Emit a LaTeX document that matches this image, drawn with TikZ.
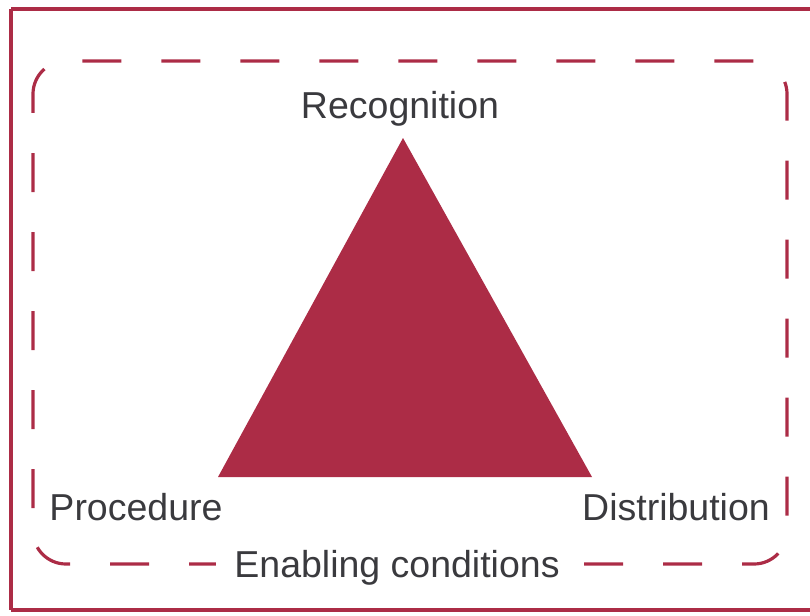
\documentclass[tikz,border=0pt]{standalone}
\usepackage{fontspec}
\setmainfont{Liberation Sans}
\definecolor{wine}{RGB}{172,44,70}
\definecolor{txt}{RGB}{58,58,62}
\begin{document}
\begin{tikzpicture}[x=1pt,y=-1pt,
  lbl/.style={font=\fontsize{37.5}{42}\selectfont, text=txt, inner sep=0pt, anchor=base},
  frame/.style={draw=wine, line width=4.5pt},
  zone/.style={draw=wine, line width=3.2pt, dash pattern=on 39pt off 40pt, rounded corners=33pt}]
\useasboundingbox (0,0) rectangle (810,615);
\draw[frame] (11,9) -- (815,9) (815,610) -- (11,610) -- cycle;
\draw[frame] (11,9) -- (11,610);
\draw[zone, dash phase=20pt] (33,61) rectangle (787,564);
\fill[wine] (403,138) -- (592,477) -- (218,477) -- cycle;
\node[lbl] (rec) at (400,118) {Recognition};
\node[lbl] (proc) at (136,520) {Procedure};
\node[lbl] (dist) at (676,520) {Distribution};
\node[lbl, fill=white, inner xsep=18pt, inner ysep=4pt] (enab) at (397,577) {Enabling conditions};
\end{tikzpicture}
\end{document}
